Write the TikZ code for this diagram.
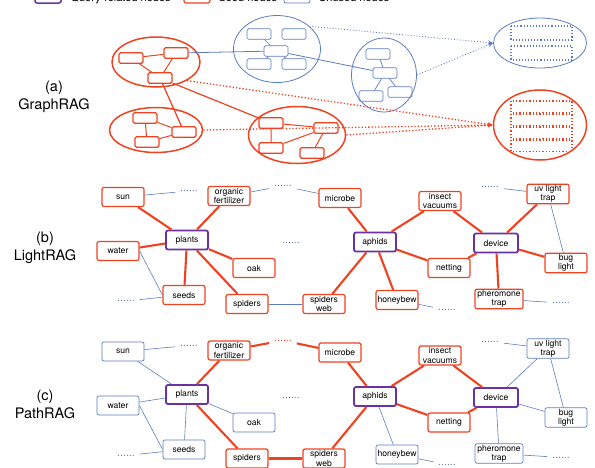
\documentclass[tikz,border=0pt]{standalone}
\usepackage{fontspec}
\setmainfont{TeX Gyre Heros}
\usetikzlibrary{%
  arrows.meta,%
  shapes.geometric%
}
\definecolor{seedred}{RGB}{238,66,32}
\definecolor{unusedblue}{RGB}{92,124,192}
\definecolor{querypurple}{RGB}{104,50,160}
\tikzset{
  box/.style={rectangle,rounded corners=2pt,minimum width=42pt,minimum height=19pt,
    inner sep=1pt,align=center,font=\fontsize{8.6}{9.4}\selectfont},
  seed/.style={box,draw=seedred,line width=1.2pt},
  unused/.style={box,draw=unusedblue,line width=0.7pt},
  query/.style={box,draw=querypurple,line width=1.8pt},
  dots/.style={font=\fontsize{10.5}{10.5}\selectfont,inner sep=1pt,outer sep=4pt,text=unusedblue},
  hot/.style={draw=seedred,line width=2.1pt},
  cold/.style={draw=unusedblue,line width=0.6pt},
  mini/.style={rectangle,rounded corners=1.5pt,minimum width=24pt,minimum height=10.5pt,inner sep=0pt},
  minired/.style={mini,draw=seedred,line width=1.1pt},
  miniblue/.style={mini,draw=unusedblue,line width=0.7pt},
  cluster/.style={ellipse,inner sep=0pt},
  legend/.style={rectangle,rounded corners=2pt,minimum width=26pt,minimum height=12pt},
  caption/.style={align=center,font=\fontsize{14.5}{18}\selectfont}
}
\begin{document}
\begin{tikzpicture}[x=1pt,y=-1pt]
  \useasboundingbox (0,0) rectangle (595,467);
  % legend, cut at the top edge
  \node [legend,draw=querypurple,line width=1.5pt] (lq) at (48,-3) {};
  \node [anchor=base west,font=\fontsize{11}{11}\selectfont] at (67,1) {Query-related nodes};
  \node [legend,draw=seedred,line width=1.2pt] (ls) at (197,-3) {};
  \node [anchor=base west,font=\fontsize{11}{11}\selectfont] at (215,1) {Seed nodes};
  \node [legend,draw=unusedblue,line width=0.8pt] (lu) at (297,-3) {};
  \node [anchor=base west,font=\fontsize{11}{11}\selectfont] at (315,1) {Unused nodes};

  % (a) GraphRAG
  \node [caption] (capa) at (54,97) {(a)\\GraphRAG};
  \node [cluster,draw=seedred,line width=1.5pt,minimum width=88pt,minimum height=50pt] (g1) at (156,62) {};
  \node [cluster,draw=seedred,line width=1.5pt,minimum width=93pt,minimum height=45pt] (g2) at (156,130) {};
  \node [cluster,draw=seedred,line width=1.5pt,minimum width=97pt,minimum height=57pt] (g3) at (297,135) {};
  \node [cluster,draw=unusedblue,line width=0.8pt,minimum width=87pt,minimum height=67pt] (g4) at (277,49) {};
  \node [cluster,draw=unusedblue,line width=0.8pt,minimum width=65pt,minimum height=74pt] (g5) at (384,75) {};
  \node [cluster,draw=unusedblue,line width=0.8pt,minimum width=93pt,minimum height=50pt] (resB) at (540,43) {};
  \node [cluster,draw=seedred,line width=1.5pt,minimum width=93pt,minimum height=70pt] (resO) at (540,125) {};

  \node [minired] (a1) at (131,58) {};
  \node [minired] (a2) at (176,53) {};
  \node [minired] (a3) at (160,78) {};
  \node [minired] (b1) at (145,118) {};
  \node [minired] (b2) at (184,132) {};
  \node [minired] (b3) at (147,142) {};
  \node [minired] (c1) at (271,123) {};
  \node [minired] (c2) at (326,128) {};
  \node [minired] (c3) at (271,148) {};
  \node [minired] (c4) at (312,153) {};
  \node [miniblue] (d1) at (259,34) {};
  \node [miniblue] (d2) at (294,34) {};
  \node [miniblue] (d3) at (276,51) {};
  \node [miniblue] (d4) at (259,64) {};
  \node [miniblue] (d5) at (294,64) {};
  \node [miniblue] (e1) at (378,54) {};
  \node [miniblue] (e2) at (385,73) {};
  \node [miniblue] (e3) at (371,96) {};
  \node [miniblue] (e4) at (400,92) {};

  \draw [seedred,line width=1pt] (a1) -- (a2) (a2) -- (a3) (a1) -- (a3);
  \draw [seedred,line width=1pt] (b1) -- (b3) (b1) -- (b2) (b3) -- (b2);
  \draw [seedred,line width=1pt] (c1) -- (c2) (c1) -- (c3) (c3) -- (c2) (c4) -- (c2);
  \draw [seedred,line width=1.2pt] (a3) -- (b2) (a3) -- (c1);
  \draw [unusedblue,line width=0.7pt] (d1) -- (d3) (d3) -- (d4) (d3) -- (d5);
  \draw [unusedblue,line width=0.7pt] (e1) -- (e2) (e2) -- (e3) (e2) -- (e4);
  \draw [unusedblue,line width=0.8pt] (a2) -- (d3) (d3) -- (e2);

  % retrieved results
  \draw [unusedblue,line width=1.1pt,dotted] (511,26) rectangle (572,40);
  \draw [unusedblue,line width=1.1pt,dotted] (511,46) rectangle (572,60);
  \foreach \y in {101,114,127,140}
    \draw [seedred,line width=1.3pt,dotted] (511,\y) rectangle (572,\y+11.5);
  \draw [unusedblue,line width=0.9pt,dotted,-{Stealth[length=5pt,width=4pt]}] (g4.35) -- (resB.west);
  \draw [unusedblue,line width=0.9pt,dotted,-{Stealth[length=5pt,width=4pt]}] (g5.east) -- (resB.west);
  \draw [seedred,line width=1.3pt,dotted,-{Stealth[length=5pt,width=4pt]}] (g1.-31) -- (resO.west);
  \draw [seedred,line width=1.3pt,dotted,-{Stealth[length=5pt,width=4pt]}] (g2.east) -- (resO.west);
  \draw [seedred,line width=1.3pt,dotted,-{Stealth[length=5pt,width=4pt]}] (g3.east) -- (resO.west);

  % (b) LightRAG
  \node [caption] (capb) at (45,247.5) {(b)\\LightRAG};
  \node [seed] (sun) at (123,197) {sun};
  \node [dots] (dotsA) at (189,191) {......};
  \node [seed] (fert) at (229,196) {organic\\fertilizer};
  \node [dots] (dotsB) at (283,186) {......};
  \node [seed] (microbe) at (340,198) {microbe};
  \node [query] (plants) at (187,240) {plants};
  \node [seed] (water) at (118,251) {water};
  \node [seed] (seeds) at (184,295) {seeds};
  \node [dots] (dotsC) at (126,301) {......};
  \node [seed] (oak) at (254,268) {oak};
  \node [seed] (spiders) at (247,304) {spiders};
  \node [seed] (web) at (324,304) {spiders\\web};
  \node [dots] (dotsM) at (291,243) {......};
  \node [query] (aphids) at (375,242) {aphids};
  \node [seed] (honey) at (397,300) {honeybew};
  \node [dots] (dotsH) at (447,310) {......};
  \node [seed] (vacuum) at (440,201) {insect\\vacuums};
  \node [seed] (netting) at (449,268) {netting};
  \node [query,minimum width=44pt] (device) at (496,243) {device};
  \node [seed] (uvtrap) at (548,194) {uv light\\trap};
  \node [dots] (dotsU) at (490,187) {......};
  \node [seed] (bug) at (566,263) {bug\\light};
  \node [seed,minimum width=48pt] (phero) at (499,299) {pheromone\\trap};
  \node [dots] (dotsP) at (561,303) {......};

  \draw [hot] (plants) -- (sun);
  \draw [hot] (plants) -- (fert);
  \draw [hot] (plants) -- (water);
  \draw [hot] (plants) -- (seeds);
  \draw [hot] (plants) -- (oak);
  \draw [hot] (plants) -- (spiders);
  \draw [hot] (aphids) -- (microbe);
  \draw [hot] (aphids) -- (web);
  \draw [hot] (aphids) -- (honey);
  \draw [hot] (aphids) -- (vacuum);
  \draw [hot] (aphids) -- (netting);
  \draw [hot] (device) -- (vacuum);
  \draw [hot] (device) -- (netting);
  \draw [hot] (device) -- (uvtrap);
  \draw [hot] (device) -- (bug);
  \draw [hot] (device) -- (phero);
  \draw [cold] (sun) -- (dotsA);
  \draw [cold] (fert) -- (dotsB);
  \draw [cold] (dotsB) -- (microbe);
  \draw [cold] (water.east) -- (seeds.west);
  \draw [cold] (dotsC) -- (seeds);
  \draw [cold] (spiders) -- (web);
  \draw [cold] (honey) -- (dotsH);
  \draw [cold] (dotsU) -- (uvtrap);
  \draw [cold] (uvtrap) -- (bug);
  \draw [cold] (phero) -- (dotsP);

  % (c) PathRAG
  \node [caption] (capc) at (45,404) {(c)\\PathRAG};
  \begin{scope}[yshift=-154.5pt,name prefix=c-]
    \node [unused] (sun) at (123,197) {sun};
    \node [dots] (dotsA) at (189,191) {......};
    \node [seed] (fert) at (229,196) {organic\\fertilizer};
    \node [dots,text=seedred] (dotsB) at (283,186) {......};
    \node [seed] (microbe) at (340,198) {microbe};
    \node [query] (plants) at (187,240) {plants};
    \node [unused] (water) at (118,251) {water};
    \node [unused] (seeds) at (184,295) {seeds};
    \node [dots] (dotsC) at (126,301) {......};
    \node [unused] (oak) at (254,268) {oak};
    \node [seed] (spiders) at (247,304) {spiders};
    \node [seed] (web) at (324,304) {spiders\\web};
    \node [dots] (dotsM) at (291,243) {......};
    \node [query] (aphids) at (375,242) {aphids};
    \node [unused] (honey) at (397,300) {honeybew};
    \node [dots] (dotsH) at (447,310) {......};
    \node [seed] (vacuum) at (440,201) {insect\\vacuums};
    \node [seed] (netting) at (449,268) {netting};
    \node [query,minimum width=44pt] (device) at (496,243) {device};
    \node [unused] (uvtrap) at (548,194) {uv light\\trap};
    \node [dots] (dotsU) at (490,187) {......};
    \node [unused] (bug) at (566,263) {bug\\light};
    \node [unused,minimum width=48pt] (phero) at (499,299) {pheromone\\trap};
    \node [dots] (dotsP) at (561,303) {......};

    \draw [hot] (plants) -- (fert);
    \draw [hot] (plants) -- (spiders);
    \draw [hot] (spiders) -- (web);
    \draw [hot] (aphids) -- (web);
    \draw [hot] (aphids) -- (microbe);
    \draw [hot] (aphids) -- (vacuum);
    \draw [hot] (aphids) -- (netting);
    \draw [hot] (device) -- (vacuum);
    \draw [hot] (device) -- (netting);
    \draw [hot] (fert) -- (dotsB);
    \draw [hot] (dotsB) -- (microbe);
    \draw [cold] (plants) -- (sun);
    \draw [cold] (plants) -- (water);
    \draw [cold] (plants) -- (seeds);
    \draw [cold] (plants) -- (oak);
    \draw [cold] (water.east) -- (seeds.west);
    \draw [cold] (dotsC) -- (seeds);
    \draw [cold] (sun) -- (dotsA);
    \draw [cold] (aphids) -- (honey);
    \draw [cold] (honey) -- (dotsH);
    \draw [cold] (device) -- (uvtrap);
    \draw [cold] (device) -- (bug);
    \draw [cold] (device) -- (phero);
    \draw [cold] (uvtrap) -- (bug);
    \draw [cold] (dotsU) -- (uvtrap);
    \draw [cold] (phero) -- (dotsP);
  \end{scope}
\end{tikzpicture}
\end{document}
